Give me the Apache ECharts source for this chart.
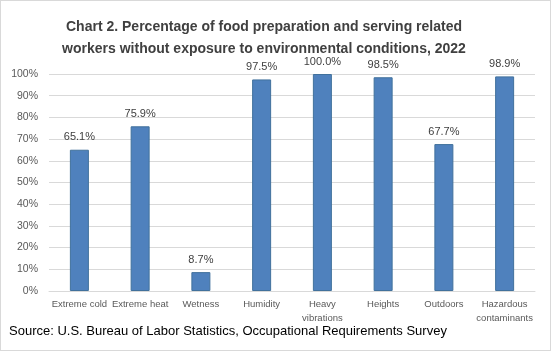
<!DOCTYPE html>
<html>
<head>
<meta charset="utf-8">
<script src="https://cdn.jsdelivr.net/npm/echarts@6/dist/echarts.min.js"></script>
<style>
  body { margin: 0; background: #fff; }
  #chart { width: 551px; height: 351px; box-sizing: border-box; border: 1px solid #d9d9d9; }
</style>
</head>
<body>
<div id="chart"></div>
<script>
const categories = ['Extreme cold', 'Extreme heat', 'Wetness', 'Humidity', 'Heavy\nvibrations', 'Heights', 'Outdoors', 'Hazardous\ncontaminants'];
const values = [65.1, 75.9, 8.7, 97.5, 100.0, 98.5, 67.7, 98.9];
const titleLines = 'Chart 2. Percentage of food preparation and serving related\nworkers without exposure to environmental conditions, 2022';
const sourceText = 'Source: U.S. Bureau of Labor Statistics, Occupational Requirements Survey';

var myChart = echarts.init(document.getElementById('chart'));
var option = {
    animation: false,
    title: {
        text: titleLines,
        left: 258,
        top: 10,
        textAlign: 'center',
        textStyle: {
            fontFamily: 'Liberation Sans',
            fontSize: 14,
            fontWeight: 'bold',
            color: '#404040',
            lineHeight: 22
        }
    },
    graphic: [{
        type: 'text',
        left: 8,
        top: 324,
        style: {
            text: sourceText,
            font: '13px "Liberation Sans"',
            fill: '#000'
        }
    }],
    grid: {
        left: 48,
        right: 15,
        top: 73,
        bottom: 59
    },
    xAxis: {
        type: 'category',
        data: categories,
        axisTick: { show: false },
        axisLine: { lineStyle: { color: '#d9d9d9' } },
        axisLabel: {
            color: '#595959',
            fontFamily: 'Liberation Sans',
            fontSize: 9.5,
            interval: 0,
            margin: 6,
            lineHeight: 14
        }
    },
    yAxis: {
        type: 'value',
        min: 0,
        max: 100,
        interval: 10,
        axisLabel: {
            formatter: '{value}%',
            color: '#595959',
            fontFamily: 'Liberation Sans',
            fontSize: 10.5,
            margin: 11
        },
        splitLine: { lineStyle: { color: '#d9d9d9' } },
        axisLine: { show: false },
        axisTick: { show: false }
    },
    series: [{
        type: 'bar',
        data: values,
        barWidth: 19,
        itemStyle: {
            color: '#4f81bd',
            borderColor: '#41719c',
            borderWidth: 1
        },
        label: {
            show: true,
            position: 'top',
            distance: 7,
            formatter: function (p) { return p.value.toFixed(1) + '%'; },
            color: '#404040',
            fontFamily: 'Liberation Sans',
            fontSize: 11
        }
    }]
};
myChart.setOption(option);
</script>
</body>
</html>
